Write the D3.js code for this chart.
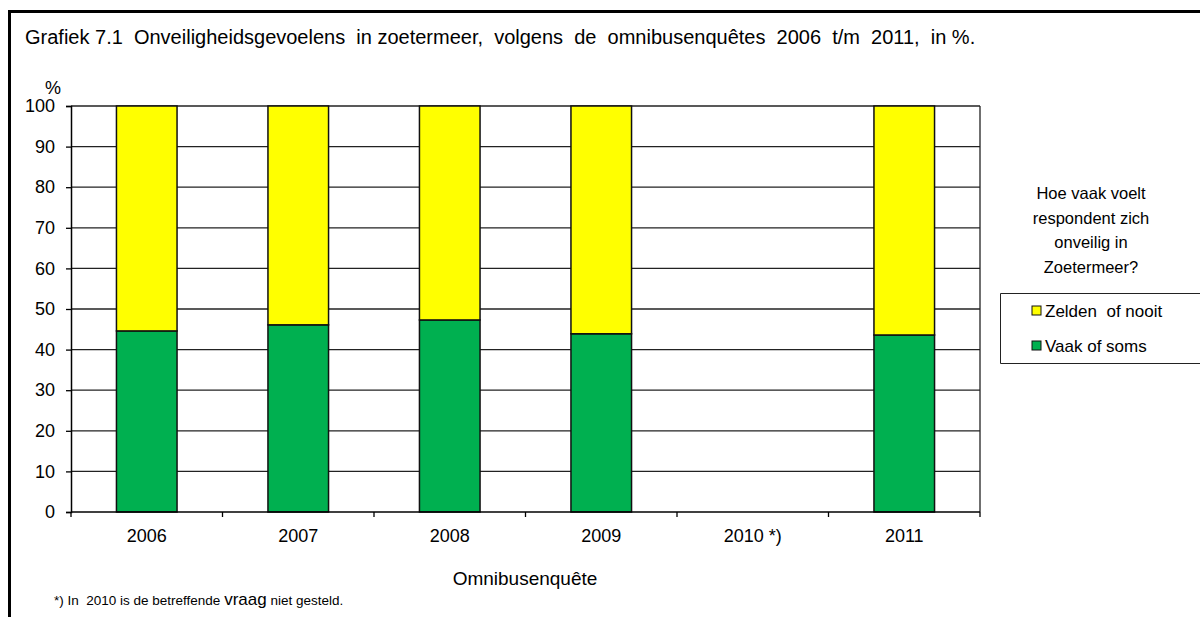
<!DOCTYPE html>
<html>
<head>
<meta charset="utf-8">
<script src="https://d3js.org/d3.v7.min.js"></script>
<style>
  body { margin: 0; background: #fff; }
  svg { display: block; font-family: "Liberation Sans", Arial, sans-serif; }
  text { white-space: pre; }
</style>
</head>
<body>
<div id="chart"></div>
<script>
// Data
const years = ["2006", "2007", "2008", "2009", "2010 *)", "2011"];
const vaakOfSoms = [44.6, 46.1, 47.3, 43.9, null, 43.6];
const zeldenOfNooit = [55.4, 53.9, 52.7, 56.1, null, 56.4];
const seriesNames = ["Zelden  of nooit", "Vaak of soms"];
const seriesColors = ["#ffff00", "#00b050"];
const yTicks = [0, 10, 20, 30, 40, 50, 60, 70, 80, 90, 100];

const width = 1200, height = 617;
const plot = { left: 71, right: 980, top: 106, bottom: 512 };

const svg = d3.select("#chart").append("svg")
    .attr("width", width)
    .attr("height", height);

// outer frame (left + top only visible)
svg.append("path")
    .attr("d", `M9.5,${height} V11.5 H${width}`)
    .attr("fill", "none")
    .attr("stroke", "#000")
    .attr("stroke-width", 3);

svg.append("text")
    .attr("x", 25).attr("y", 44)
    .style("font-size", "20px")
    .text("Grafiek 7.1  Onveiligheidsgevoelens  in zoetermeer,  volgens  de  omnibusenquêtes  2006  t/m  2011,  in %.");

const x = d3.scaleBand()
    .domain(years)
    .range([plot.left, plot.right])
    .paddingInner(0.6)
    .paddingOuter(0.3);

const xOuter = d3.scaleBand()
    .domain(years)
    .range([plot.left, plot.right]);

const y = d3.scaleLinear()
    .domain([0, 100])
    .range([plot.bottom, plot.top]);

// gridlines
svg.append("g")
    .selectAll("line")
    .data(yTicks.filter(d => d > 0))
    .join("line")
    .attr("x1", plot.left).attr("x2", plot.right)
    .attr("y1", d => y(d)).attr("y2", d => y(d))
    .attr("stroke", "#222")
    .attr("stroke-width", 1.3);

// right border of plot area
svg.append("line")
    .attr("x1", plot.right).attr("x2", plot.right)
    .attr("y1", plot.top).attr("y2", plot.bottom)
    .attr("stroke", "#222")
    .attr("stroke-width", 1.3);

// stacked bars
const rows = years.map((yr, i) => ({ year: yr, vaak: vaakOfSoms[i], zelden: zeldenOfNooit[i] }))
    .filter(d => d.vaak != null);

const stack = d3.stack().keys(["vaak", "zelden"]);
const stacked = stack(rows);
const barColors = { vaak: seriesColors[1], zelden: seriesColors[0] };

svg.append("g")
    .selectAll("g")
    .data(stacked)
    .join("g")
    .attr("fill", d => barColors[d.key])
    .selectAll("rect")
    .data(d => d)
    .join("rect")
    .attr("x", d => x(d.data.year))
    .attr("width", x.bandwidth())
    .attr("y", d => y(d[1]))
    .attr("height", d => y(d[0]) - y(d[1]))
    .attr("stroke", "#111")
    .attr("stroke-width", 1.5);

// y axis
const yAxis = svg.append("g")
    .attr("transform", `translate(${plot.left},0)`)
    .call(d3.axisLeft(y).tickValues(yTicks).tickSize(5).tickPadding(11));
yAxis.select(".domain").attr("stroke", "#000").attr("stroke-width", 1.5);
yAxis.selectAll(".tick line").attr("stroke", "#000").attr("stroke-width", 1.3);
yAxis.selectAll(".tick text")
    .style("font-size", "18px")
    .style("font-family", "'Liberation Sans', Arial, sans-serif")
    .attr("fill", "#000");

// x axis with ticks at band boundaries
const xg = svg.append("g")
    .attr("transform", `translate(0,${plot.bottom})`);
xg.append("line")
    .attr("x1", plot.left).attr("x2", plot.right)
    .attr("stroke", "#000").attr("stroke-width", 1.5);
const bounds = years.map(d => xOuter(d)).concat([plot.right]);
xg.selectAll("line.tk")
    .data(bounds)
    .join("line")
    .attr("class", "tk")
    .attr("x1", d => d).attr("x2", d => d)
    .attr("y1", 0).attr("y2", 5)
    .attr("stroke", "#000").attr("stroke-width", 1.3);
xg.selectAll("text")
    .data(years)
    .join("text")
    .attr("x", d => xOuter(d) + xOuter.bandwidth() / 2)
    .attr("y", 30)
    .attr("text-anchor", "middle")
    .style("font-size", "18px")
    .text(d => d);

// axis titles
svg.append("text")
    .attr("x", 53).attr("y", 94)
    .attr("text-anchor", "middle")
    .style("font-size", "18px")
    .text("%");

svg.append("text")
    .attr("x", 525).attr("y", 585)
    .attr("text-anchor", "middle")
    .style("font-size", "19px")
    .text("Omnibusenquête");

// footnote
const foot = svg.append("text")
    .attr("x", 54).attr("y", 605)
    .style("font-size", "13.5px");
foot.append("tspan").text("*) In  2010 is de betreffende ");
foot.append("tspan").style("font-size", "17px").text("vraag");
foot.append("tspan").text(" niet gesteld.");

// legend title
const legendTitle = ["Hoe vaak voelt", "respondent zich", "onveilig in", "Zoetermeer?"];
svg.append("g")
    .selectAll("text")
    .data(legendTitle)
    .join("text")
    .attr("x", 1091)
    .attr("y", (d, i) => 199 + i * 24.5)
    .attr("text-anchor", "middle")
    .style("font-size", "16.5px")
    .text(d => d);

// legend box
svg.append("path")
    .attr("d", `M${width},293.5 H1000.5 V363.5 H${width}`)
    .attr("fill", "none")
    .attr("stroke", "#222")
    .attr("stroke-width", 1);

const lg = svg.append("g")
    .selectAll("g")
    .data(seriesNames)
    .join("g")
    .attr("transform", (d, i) => `translate(1032,${306 + i * 35})`);
lg.append("rect")
    .attr("width", 9).attr("height", 9)
    .attr("fill", (d, i) => seriesColors[i])
    .attr("stroke", "#111").attr("stroke-width", 1);
lg.append("text")
    .attr("x", 13).attr("y", 10.5)
    .style("font-size", "17px")
    .text(d => d);
</script>
</body>
</html>
